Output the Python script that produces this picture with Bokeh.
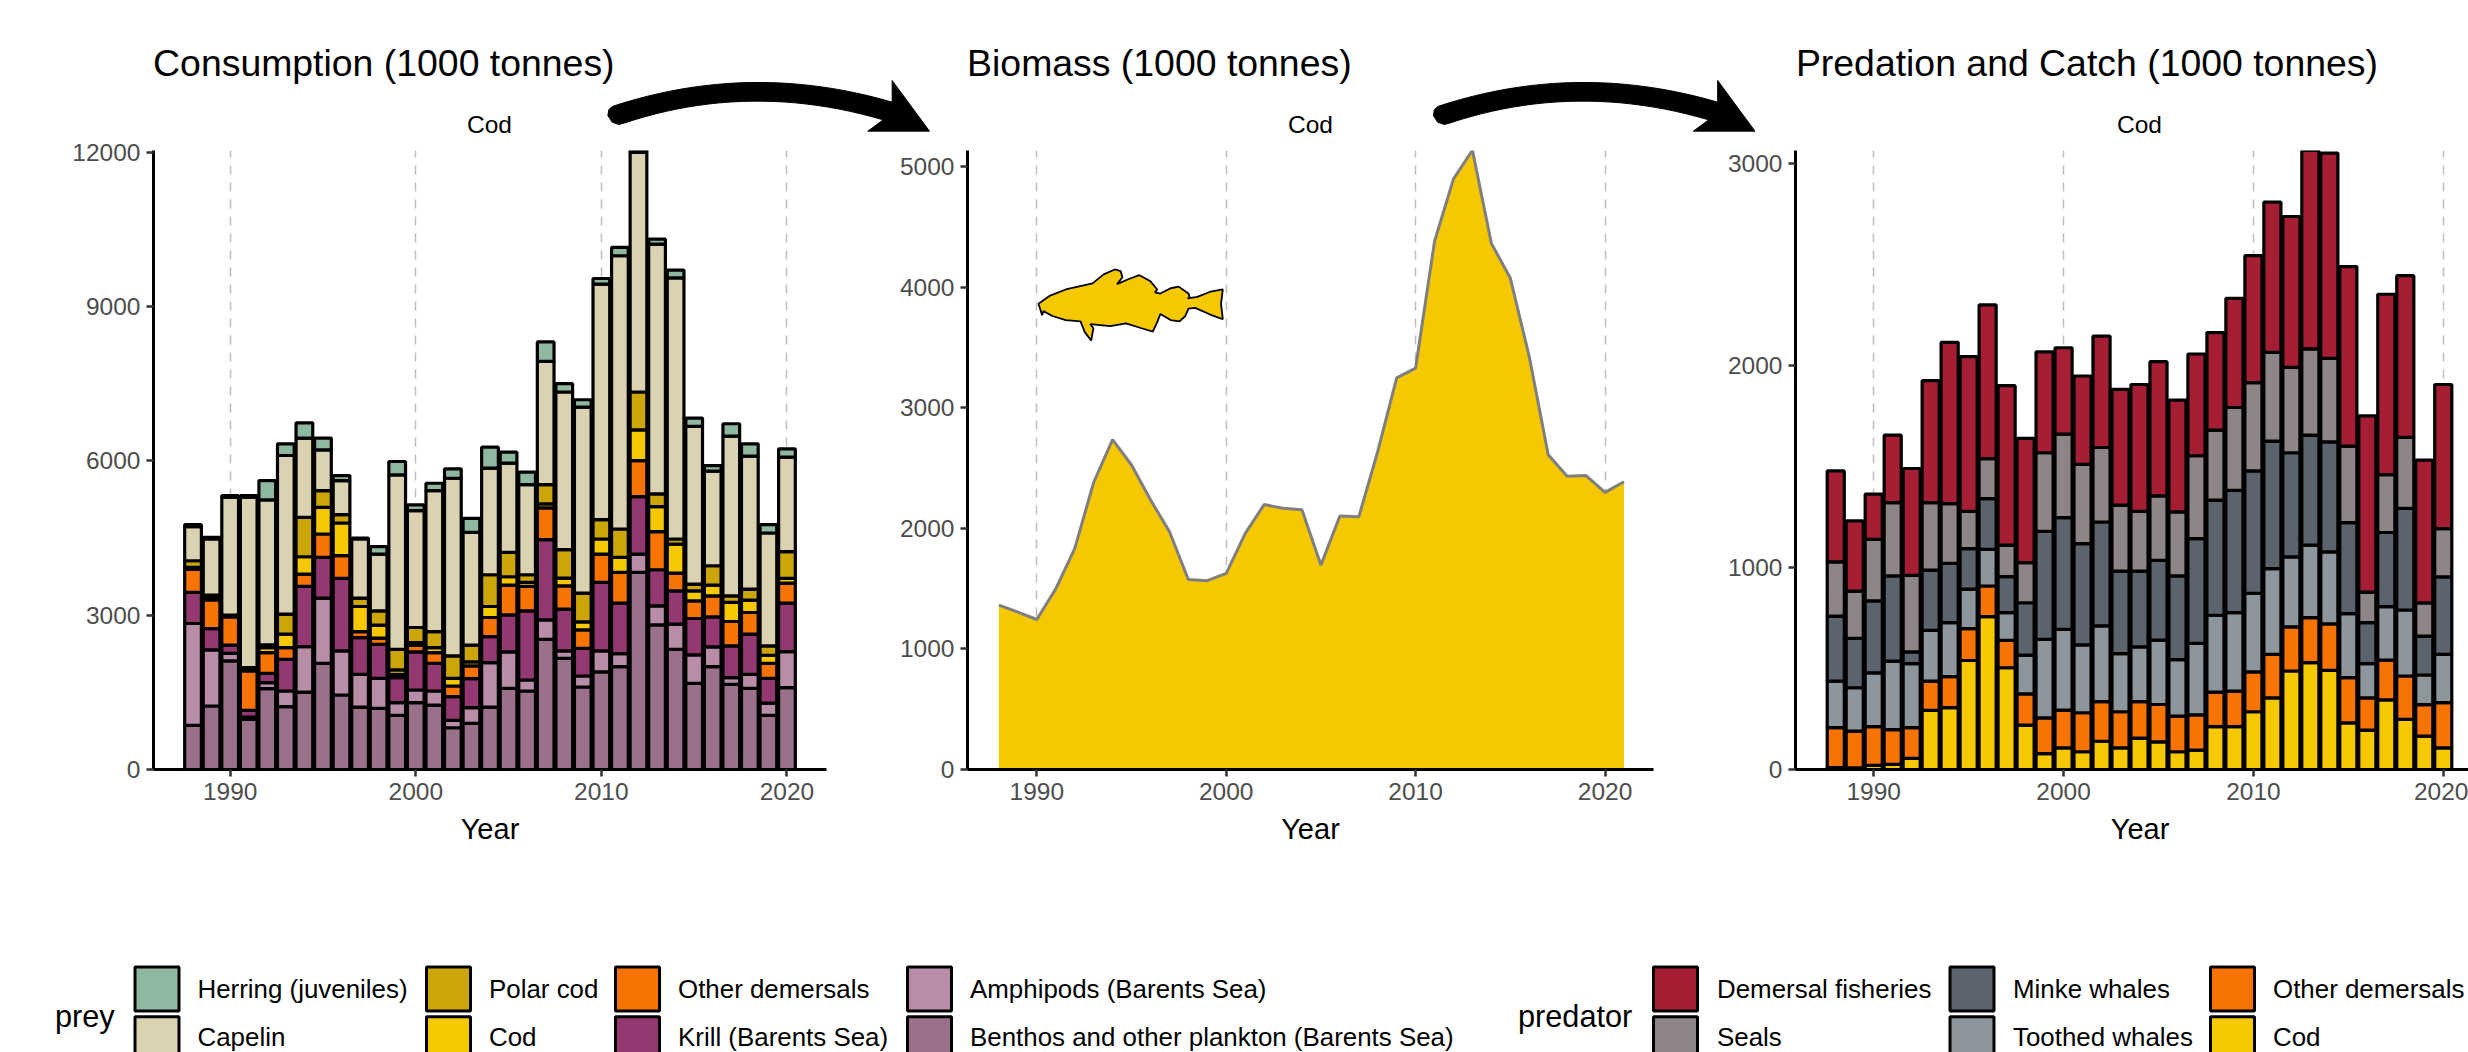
from bokeh.plotting import figure
from bokeh.layouts import column, row
from bokeh.models import Range1d, FixedTicker
from bokeh.core.properties import value
from bokeh.embed import file_html
from bokeh.resources import INLINE

FONT = "Liberation Sans"
years = list(range(1988, 2021))
biomass_years = list(range(1988, 2022))

# Consumption: upper edge of each stacked prey layer (1000 tonnes)
prey_benthos = [857,1234,2110,974,1571,1221,1506,2065,1448,1214,1188,1052,1299,1253,812,896,1214,1578,1526,2532,2162,1604,1896,2000,3831,2812,2338,1675,2000,1656,1578,1052,1591]
prey_amphipods = [2838,2325,2260,1019,1688,1526,2390,3331,2305,1851,1773,1299,1545,1526,955,1201,2078,2286,1740,2909,2305,1818,2305,2253,4188,3182,2825,2227,2383,1786,1851,1292,2292]
prey_krill = [3442,2740,2416,1149,1870,2143,3558,4123,3714,2565,2435,1786,2286,2065,1416,1766,2584,3006,3084,4468,3117,2357,3636,3234,5305,3883,3474,2935,2968,2403,2630,1773,3234]
prey_demersals = [3896,3299,2968,1916,2273,2370,3799,4578,4156,2682,2552,1851,2416,2273,1623,2013,2955,3584,3558,5084,3571,2714,4188,3831,6006,4623,3818,3279,3377,2877,3052,2065,3623]
prey_cod = [3929,3344,2987,1948,2370,2630,4136,5097,4792,3169,2805,1935,2468,2370,1773,2091,3169,3747,3636,5162,3721,2870,4481,4123,6604,5110,4383,3474,3584,3247,3292,2221,3714]
prey_polar = [4058,3390,3000,1981,2422,3019,4903,5422,4955,3331,3084,2338,2760,2682,2208,2416,3786,4221,3786,5539,4273,3429,4857,4675,7338,5357,4481,3604,3961,3377,3506,2403,4234]
prey_capelin = [4721,4481,5292,5292,5240,6104,6442,6214,5617,4481,4188,5727,5032,5422,5662,4610,5857,5955,5539,7935,7338,7045,9435,9987,11994,10214,9558,6669,5799,6481,6091,4597,6071]
prey_herring = [4760,4513,5325,5325,5617,6331,6740,6442,5714,4500,4331,5987,5143,5565,5844,4883,6266,6169,5779,8312,7500,7188,9545,10149,12058,10312,9708,6831,5909,6721,6331,4760,6234]

# Biomass of cod (1000 tonnes)
biomass = [1363,1305,1244,1498,1831,2380,2736,2525,2237,1973,1576,1566,1627,1956,2197,2166,2153,1695,2102,2095,2637,3247,3329,4380,4898,5135,4363,4075,3424,2610,2431,2437,2298,2386]

# Predation and catch: upper edge of each stacked predator layer (1000 tonnes)
pred_cod = [10,8,20,25,55,293,306,540,757,504,220,79,107,88,140,107,155,137,88,96,212,212,286,355,488,529,491,231,195,345,248,165,107]
pred_demersals = [207,190,212,198,207,438,460,698,909,640,375,256,294,281,336,286,336,322,264,271,383,388,484,570,706,752,721,455,355,542,463,321,331]
pred_toothed = [438,405,479,537,524,689,727,893,1091,777,567,645,694,617,711,574,607,641,544,625,764,777,873,995,1053,1111,1078,772,524,807,790,468,570]
pred_minke = [760,650,835,959,583,988,1021,1094,1342,955,826,1179,1248,1119,1226,983,983,1036,959,1144,1334,1383,1479,1626,1569,1656,1623,1223,727,1174,1293,661,954]
pred_seals = [1028,884,1140,1322,962,1322,1317,1279,1540,1111,1025,1569,1661,1511,1595,1309,1279,1355,1276,1554,1681,1793,1916,2066,1992,2083,2036,1602,879,1461,1645,825,1193]
pred_fisheries = [1479,1231,1364,1656,1491,1926,2116,2045,2301,1901,1640,2069,2089,1949,2147,1883,1907,2020,1830,2058,2164,2334,2545,2810,2739,3074,3053,2491,1752,2354,2446,1532,1907]

COL = {
    "Herring (juveniles)": "#8FB8A0", "Capelin": "#DAD2B0", "Polar cod": "#CCA508",
    "Cod": "#F6C800", "Other demersals": "#F77404", "Krill (Barents Sea)": "#943872",
    "Amphipods (Barents Sea)": "#B98CA8", "Benthos and other plankton (Barents Sea)": "#9A708A",
    "Demersal fisheries": "#A51E33", "Seals": "#8E8686", "Minke whales": "#5B646C",
    "Toothed whales": "#8D959D",
}

prey_stack = [("Benthos and other plankton (Barents Sea)", prey_benthos),
              ("Amphipods (Barents Sea)", prey_amphipods),
              ("Krill (Barents Sea)", prey_krill),
              ("Other demersals", prey_demersals),
              ("Cod", prey_cod),
              ("Polar cod", prey_polar),
              ("Capelin", prey_capelin),
              ("Herring (juveniles)", prey_herring)]
pred_stack = [("Cod", pred_cod), ("Other demersals", pred_demersals),
              ("Toothed whales", pred_toothed), ("Minke whales", pred_minke),
              ("Seals", pred_seals), ("Demersal fisheries", pred_fisheries)]

prey_legend = [["Herring (juveniles)", "Capelin"], ["Polar cod", "Cod"],
               ["Other demersals", "Krill (Barents Sea)"],
               ["Amphipods (Barents Sea)", "Benthos and other plankton (Barents Sea)"]]
pred_legend = [["Demersal fisheries", "Seals"], ["Minke whales", "Toothed whales"],
               ["Other demersals", "Cod"]]

panel_titles = ["Consumption (1000 tonnes)", "Biomass (1000 tonnes)", "Predation and Catch (1000 tonnes)"]
strip_label = "Cod"
x_title = "Year"

PAGE_W = 2468
STRIP_END, TOP_PAGE, BOTTOM_PAGE, AXIS_END, PAGE_H = 139, 150, 769, 900, 1052


def panel(left, frame_l, frame_r, right, xr, yr, yticks, label):
    """Panel whose frame sits at the given page pixels."""
    p = figure(width=int(round(right - left)), height=AXIS_END - STRIP_END,
               x_range=Range1d(*xr), y_range=Range1d(*yr),
               toolbar_location=None, output_backend="svg",
               min_border_left=int(round(frame_l - left)),
               min_border_right=int(round(right - frame_r)),
               min_border_top=TOP_PAGE - STRIP_END,
               min_border_bottom=AXIS_END - BOTTOM_PAGE,
               outline_line_color=None, background_fill_color="white")
    p.xaxis.ticker = FixedTicker(ticks=[1990, 2000, 2010, 2020])
    p.yaxis.ticker = FixedTicker(ticks=yticks)
    p.xaxis.axis_label = label
    p.xaxis.axis_label_text_font = FONT
    p.xaxis.axis_label_text_font_size = "29px"
    p.xaxis.axis_label_text_font_style = "normal"
    p.xaxis.axis_label_text_color = "black"
    p.xaxis.axis_label_standoff = 10
    for ax in (p.xaxis, p.yaxis):
        ax.major_label_text_font = FONT
        ax.major_label_text_font_size = "24.5px"
        ax.major_label_text_color = "#4D4D4D"
        ax.major_label_standoff = 6
        ax.axis_line_color = "black"
        ax.axis_line_width = 3
        ax.major_tick_line_color = "#333333"
        ax.major_tick_line_width = 2.5
        ax.major_tick_out = 7
        ax.major_tick_in = 0
        ax.minor_tick_line_color = None
    p.yaxis.major_label_orientation = "horizontal"
    p.ygrid.visible = False
    p.xgrid.ticker = FixedTicker(ticks=[1990, 2000, 2010, 2020])
    p.xgrid.grid_line_color = "#BEBEBE"
    p.xgrid.grid_line_width = 1.5
    p.xgrid.grid_line_dash = "9 8"
    return p


def stacked(p, stack):
    bottom = [0] * len(years)
    for name, tops in stack:
        p.vbar(x=years, width=0.9, bottom=bottom, top=tops,
               fill_color=COL[name], line_color="black", line_width=3.2)
        bottom = tops


def bezier(a, c, b, n=24):
    return [((1 - t) ** 2 * a[0] + 2 * t * (1 - t) * c[0] + t ** 2 * b[0],
             (1 - t) ** 2 * a[1] + 2 * t * (1 - t) * c[1] + t ** 2 * b[1])
            for t in (i / n for i in range(n + 1))]


# outlines of the decoration, in page pixels
ARROW = (bezier((65, 108), (480, -29.5), (905, 95))
         + [(905, 30), (1017, 182), (832, 182), (878, 148)]
         + bezier((878, 148), (480, 31), (100, 158))
         + [(85, 162), (65, 155), (52, 135), (55, 118)])
FISH = [(174,400),(200,380),(235,365),(295,350),(320,328),(345,316),(358,320),(362,335),(350,352),
        (375,340),(400,330),(425,345),(440,365),(435,372),(447,375),(470,362),(488,358),(510,375),
        (513,385),(508,387),(530,383),(560,370),(587,365),(583,400),(587,438),(560,427),(525,410),
        (510,412),(503,430),(490,443),(470,440),(447,425),(440,445),(430,468),(405,460),(370,448),
        (335,455),(290,450),(297,460),(292,490),(278,470),(268,443),(235,440),(205,430),(185,418),
        (182,428),(174,400)]
fish_x_page = [960 + a / 2.24 for a, b in FISH]
fish_y_page = [140 + b / 2.45 for a, b in FISH]


def blank(width, height, x0, x1, y0, y1):
    """Figure without axes whose ranges are page pixels."""
    s = figure(width=width, height=height, x_range=Range1d(x0, x1), y_range=Range1d(y1, y0),
               toolbar_location=None, output_backend="svg", min_border=0, outline_line_color=None)
    s.axis.visible = False
    s.grid.visible = False
    return s


# Top strip: titles and arrows
strip = blank(PAGE_W, STRIP_END, 0, PAGE_W, 0, STRIP_END)
strip.text(x=[152.6, 966.6, 1795.4], y=[62, 62, 62], text=panel_titles, text_font=value(FONT),
           text_font_size="37.4px", text_color="black", text_align="left", text_baseline="middle")
strip.text(x=[489, 1310, 2139], y=[124, 124, 124], text=[strip_label] * 3, text_font=value(FONT),
           text_font_size="24.5px", text_color="black", text_align="center", text_baseline="middle")
for dx in (0, 825.5):
    strip.patch(x=[590 + dx + a / 3 for a, b in ARROW], y=[70 + b / 3 for a, b in ARROW],
                fill_color="black", line_color="black", line_width=1)

# Panel 1
xr1, yr1 = (1985.87, 2022.13), (0, 12033)
f1 = panel(0, 152.6, 826, 875, xr1, yr1, [0, 3000, 6000, 9000, 12000], x_title)
stacked(f1, prey_stack)

# Panel 2
xr2, yr2 = (1986.34, 2022.56), (0, 5133)
f2 = panel(875, 966.6, 1653, 1700, xr2, yr2, [0, 1000, 2000, 3000, 4000, 5000], x_title)
f2.varea(x=biomass_years, y1=[0] * len(biomass), y2=biomass, fill_color=COL["Cod"])
f2.line(x=biomass_years, y=biomass, line_color="#7F7F7F", line_width=3)
fish_x = [xr2[0] + (a - 966.6) / (1653 - 966.6) * (xr2[1] - xr2[0]) for a in fish_x_page]
fish_y = [(BOTTOM_PAGE - b) / (BOTTOM_PAGE - TOP_PAGE) * yr2[1] for b in fish_y_page]
f2.patch(x=fish_x, y=fish_y, fill_color=COL["Cod"], line_color="black", line_width=1.8)

# Panel 3: its plot area runs past the page edge, two no-break spaces recentre "Year"
xr3, yr3 = (1985.88, 2021.33), (0, 3066)
f3 = panel(1700, 1795.4, 2468, 2468, xr3, yr3, [0, 1000, 2000, 3000], "\u00a0\u00a0" + x_title)
stacked(f3, pred_stack)

# Legends
leg = blank(PAGE_W, PAGE_H - AXIS_END, 0, PAGE_W, AXIS_END, PAGE_H)
ROWS = [988.5, 1036.6]
SWATCH_ROWS = [988.5, 1038.2]


def legend_block(title, title_x, columns, swatch_x, text_x):
    leg.text(x=[title_x], y=[1015.5], text=[title], text_font=value(FONT), text_font_size="30.7px",
             text_color="black", text_align="left", text_baseline="middle")
    for names, sx, tx in zip(columns, swatch_x, text_x):
        leg.rect(x=[sx, sx], y=SWATCH_ROWS, width=44, height=44, fill_color=[COL[n] for n in names],
                 line_color="black", line_width=3)
        leg.text(x=[tx, tx], y=ROWS, text=names, text_font=value(FONT), text_font_size="25.9px",
                 text_color="black", text_align="left", text_baseline="middle")


legend_block("prey", 54.5, prey_legend, [156.5, 448, 637, 929], [197, 488.5, 677.5, 969.5])
legend_block("predator", 1517.5, pred_legend, [1675, 1971.5, 2232], [1716.5, 2012.5, 2272.5])

layout = column(strip, row(f1, f2, f3, spacing=0), leg, spacing=0)
open("out.html", "w").write(file_html(layout, INLINE))
